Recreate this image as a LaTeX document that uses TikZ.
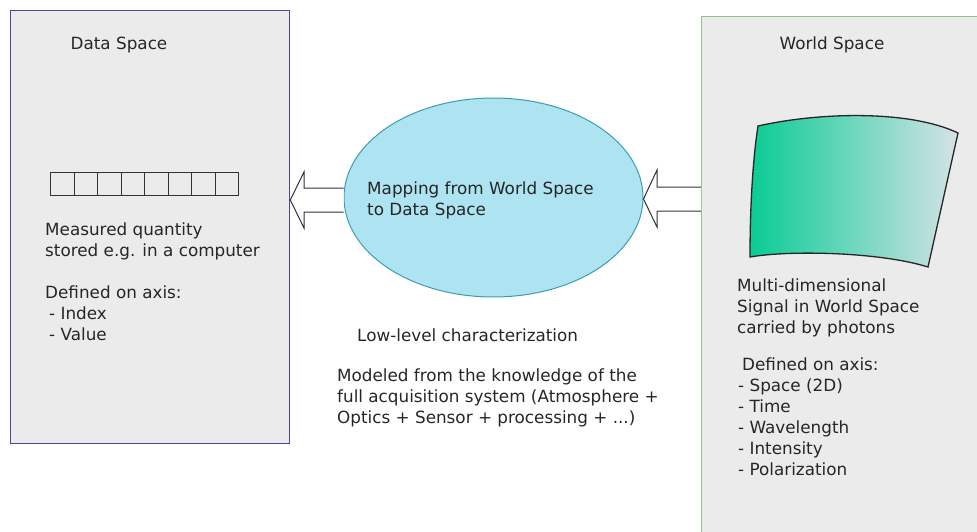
\documentclass[tikz,border=0pt]{standalone}
\usepackage{fontspec}
\setmainfont{DejaVu Sans}
\usetikzlibrary{shapes.geometric}

\definecolor{boxfill}{RGB}{235,235,235}
\definecolor{dataline}{RGB}{75,72,145}
\definecolor{worldline}{RGB}{140,196,140}
\definecolor{mapfill}{RGB}{174,228,241}
\definecolor{mapline}{RGB}{58,158,176}
\definecolor{signalleft}{RGB}{10,204,148}
\definecolor{signalright}{RGB}{214,226,232}

\begin{document}
\begin{tikzpicture}[x=1pt, y=-1pt, font=\fontsize{16.8}{21}\selectfont, text=black!85,
	space/.style = {anchor=north west, fill=boxfill, line width=1.3pt, inner sep=0},
	cell/.style = {draw=black!80, line width=1.2pt, anchor=north west, minimum width=23.5, minimum height=23, inner sep=0},
	txt/.style = {anchor=base west, align=left, inner sep=0},
	hollow/.style = {draw=black!80, fill=white, line width=1pt, line join=miter}]
				\clip (0,0) rectangle (977,532);
				\node[space, draw=dataline, minimum width=279, minimum height=433] (data) at (10,10) {};
				\node[space, draw=worldline, minimum width=300, minimum height=560] (world) at (701,16) {};
				\node[txt, anchor=base] (datatitle) at (119,50) {Data Space};
				\node[txt, anchor=base] (worldtitle) at (832,50) {World Space};
				\foreach \i in {0,...,7}
					\node[cell] (cell\i) at (50+23.5*\i,172) {};
				% base of a multi-line node is its last line
				\node[txt] (measured) at (45,340) {Measured quantity\\stored e.g. in a computer\\[21pt]Defined on axis:\\\hspace{4pt}- Index\\\hspace{4pt}- Value};
				\node[ellipse, draw=mapline, fill=mapfill, line width=1pt, minimum width=299, minimum height=199, inner sep=0] (map) at (493.5,197.5) {};
				\node[txt] (maptext) at (367,215) {Mapping from World Space\\to Data Space};
				\draw[hollow] (map.west |- 0,188) -- (304,188) -- (304,172) -- (data.east |- 0,200) -- (304,228) -- (304,212) -- (map.west |- 0,212);
				\draw[hollow] (world.west |- 0,187) -- (657,187) -- (657,170) -- (map.east |- 0,199) -- (657,227) -- (657,211) -- (world.west |- 0,211);
				\node[txt] (lowlevel) at (357,341.5) {Low-level characterization};
				\node[txt] (modeled) at (337,423) {Modeled from the knowledge of the\\full acquisition system (Atmosphere +\\Optics + Sensor + processing + ...)};
				\draw[left color=signalleft, right color=signalright, draw=black!85, line width=1.3pt]
					(758,126) .. controls (820,112) and (910,110) .. (958,133) -- (928,267)
					.. controls (880,252) and (790,250) .. (750,257)
					.. controls (750,215) and (752,165) .. cycle;
				\node[txt] (signal) at (737,333) {Multi-dimensional\\Signal in World Space\\carried by photons};
				\node[txt] (axes) at (738,475) {\hspace{4pt}Defined on axis:\\- Space (2D)\\- Time\\- Wavelength\\- Intensity\\- Polarization};
			\end{tikzpicture}
\end{document}
